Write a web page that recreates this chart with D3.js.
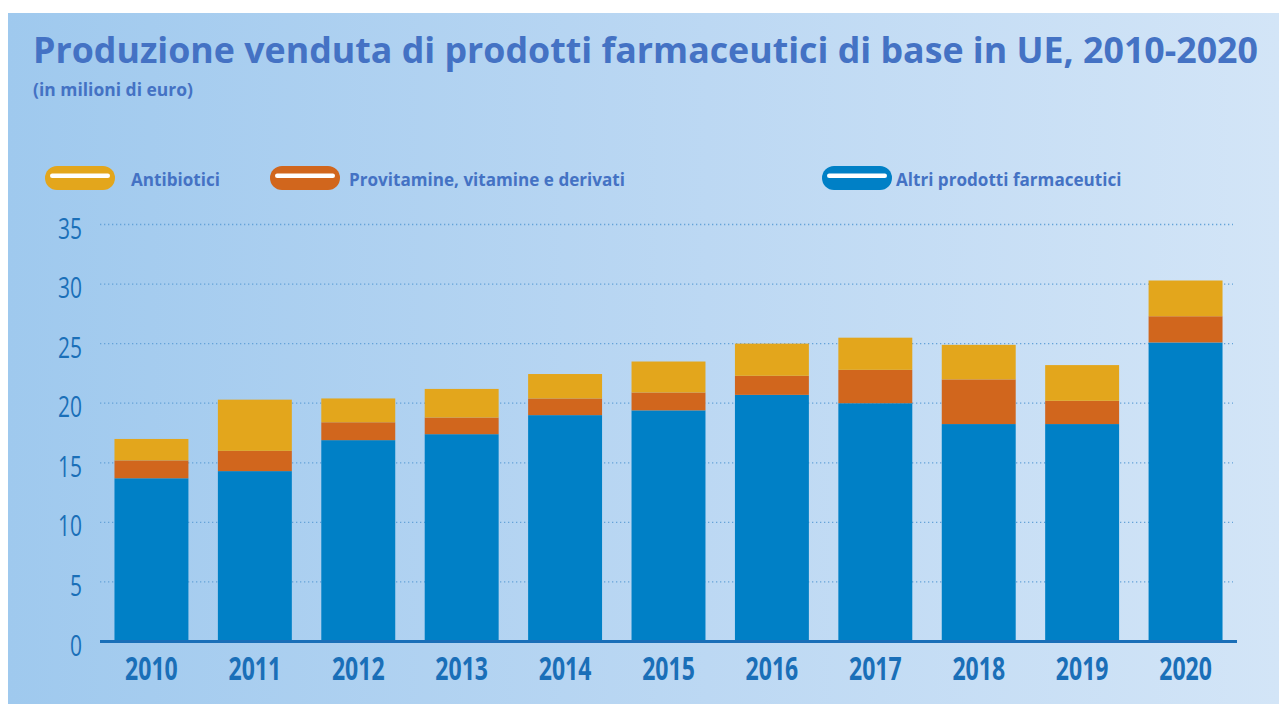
<!DOCTYPE html>
<html>
<head>
<meta charset="utf-8">
<script src="https://cdn.jsdelivr.net/npm/d3@7"></script>
<style>
  html, body { margin: 0; padding: 0; background: #ffffff; }
  svg { display: block; }
</style>
</head>
<body>
<div id="chart"></div>
<script>
// data (values in milioni di euro, thousands scale of the axis)
var years = ["2010", "2011", "2012", "2013", "2014", "2015", "2016", "2017", "2018", "2019", "2020"];
var altri = [13.7, 14.3, 16.9, 17.4, 19.0, 19.4, 20.7, 20.0, 18.25, 18.25, 25.1];
var provitamine = [1.5, 1.7, 1.5, 1.4, 1.4, 1.5, 1.6, 2.8, 3.75, 1.95, 2.2];
var antibiotici = [1.8, 4.3, 2.0, 2.4, 2.05, 2.6, 2.7, 2.7, 2.9, 3.0, 3.0];
var yTicks = [0, 5, 10, 15, 20, 25, 30, 35];

var seriesKeys = ["altri", "provitamine", "antibiotici"];
var seriesColors = {altri: "#0080c6", provitamine: "#d1661d", antibiotici: "#e3a61c"};
var legendItems = [
    {key: "antibiotici", label: "Antibiotici", x: 45, tx: 131},
    {key: "provitamine", label: "Provitamine, vitamine e derivati", x: 270, tx: 349},
    {key: "altri", label: "Altri prodotti farmaceutici", x: 822, tx: 896}
];

var width = 1279, height = 704;
var textBlue = "#4472c4";
var axisBlue = "#1a6fb8";
var font = "'Open Sans', Lato, sans-serif";

var rows = years.map(function(y, i) {
    return {year: y, altri: altri[i], provitamine: provitamine[i], antibiotici: antibiotici[i]};
});

var svg = d3.select("#chart").append("svg")
    .attr("width", width)
    .attr("height", height);

var defs = svg.append("defs");
var grad = defs.append("linearGradient")
    .attr("id", "bg")
    .attr("x1", "0%").attr("y1", "0%")
    .attr("x2", "100%").attr("y2", "0%");
grad.append("stop").attr("offset", "0%").attr("stop-color", "#9fc9ee");
grad.append("stop").attr("offset", "55%").attr("stop-color", "#bcd8f3");
grad.append("stop").attr("offset", "100%").attr("stop-color", "#d3e5f7");

svg.append("rect")
    .attr("x", 8).attr("y", 13)
    .attr("width", width - 8).attr("height", height - 13)
    .attr("fill", "url(#bg)");

// title
svg.append("text")
    .attr("x", 33).attr("y", 63)
    .attr("fill", textBlue)
    .attr("font-family", font)
    .attr("font-weight", "bold")
    .attr("font-size", 35)
    .attr("textLength", 1225)
    .attr("lengthAdjust", "spacingAndGlyphs")
    .text("Produzione venduta di prodotti farmaceutici di base in UE, 2010-2020");

svg.append("text")
    .attr("x", 33).attr("y", 96)
    .attr("fill", textBlue)
    .attr("font-family", font)
    .attr("font-weight", "bold")
    .attr("font-size", 17)
    .attr("textLength", 160)
    .attr("lengthAdjust", "spacingAndGlyphs")
    .text("(in milioni di euro)");

// legend
var legend = svg.append("g");
var li = legend.selectAll("g").data(legendItems).enter().append("g");
li.append("rect")
    .attr("x", function(d) { return d.x; })
    .attr("y", 166)
    .attr("width", 70).attr("height", 24)
    .attr("rx", 12)
    .attr("fill", function(d) { return seriesColors[d.key]; });
li.append("rect")
    .attr("x", function(d) { return d.x + 5; })
    .attr("y", 173.5)
    .attr("width", 60).attr("height", 4.5)
    .attr("rx", 2.2)
    .attr("fill", "#ffffff");
li.append("text")
    .attr("transform", function(d) { return "translate(" + d.tx + ",186) scale(0.95,1)"; })
    .attr("fill", textBlue)
    .attr("font-family", font)
    .attr("font-weight", "bold")
    .attr("font-size", 18)
    .text(function(d) { return d.label; });

// scales
var plotLeft = 100, plotRight = 1237;
var yScale = d3.scaleLinear()
    .domain([0, 35])
    .range([641.5, 224.5]);
var xScale = d3.scaleBand()
    .domain(years)
    .range([plotLeft, plotRight])
    .paddingInner(0.285)
    .paddingOuter(0.14);

// gridlines
var grid = svg.append("g");
grid.selectAll("line").data(yTicks.filter(function(t) { return t > 0; }))
    .enter().append("line")
    .attr("x1", plotLeft).attr("x2", 1233)
    .attr("y1", function(d) { return yScale(d); })
    .attr("y2", function(d) { return yScale(d); })
    .attr("stroke", "#64a2d8")
    .attr("stroke-width", 1.3)
    .attr("stroke-dasharray", "1.3,2.7");

// y labels (condensed look)
svg.append("g").selectAll("text").data(yTicks)
    .enter().append("text")
    .attr("transform", function(d) { return "translate(82," + (yScale(d) + 14) + ") scale(0.7,1)"; })
    .attr("text-anchor", "end")
    .attr("fill", axisBlue)
    .attr("font-family", font)
    .attr("font-size", 30)
    .text(function(d) { return d; });

// stacked bars
var stack = d3.stack().keys(seriesKeys);
var layers = stack(rows);
var barGroup = svg.append("g");
barGroup.selectAll("g").data(layers)
    .enter().append("g")
    .attr("fill", function(d) { return seriesColors[d.key]; })
    .selectAll("rect").data(function(d) { return d; })
    .enter().append("rect")
    .attr("x", function(d) { return xScale(d.data.year); })
    .attr("width", xScale.bandwidth())
    .attr("y", function(d) { return yScale(d[1]); })
    .attr("height", function(d) { return yScale(d[0]) - yScale(d[1]); });

// x axis line
svg.append("line")
    .attr("x1", plotLeft).attr("x2", plotRight)
    .attr("y1", 641.5).attr("y2", 641.5)
    .attr("stroke", axisBlue)
    .attr("stroke-width", 3);

// x labels
svg.append("g").selectAll("text").data(years)
    .enter().append("text")
    .attr("transform", function(d) {
        return "translate(" + (xScale(d) + xScale.bandwidth() / 2) + ",680) scale(0.72,1)";
    })
    .attr("text-anchor", "middle")
    .attr("fill", axisBlue)
    .attr("font-family", font)
    .attr("font-weight", "bold")
    .attr("font-size", 32)
    .text(function(d) { return d; });
</script>
</body>
</html>
